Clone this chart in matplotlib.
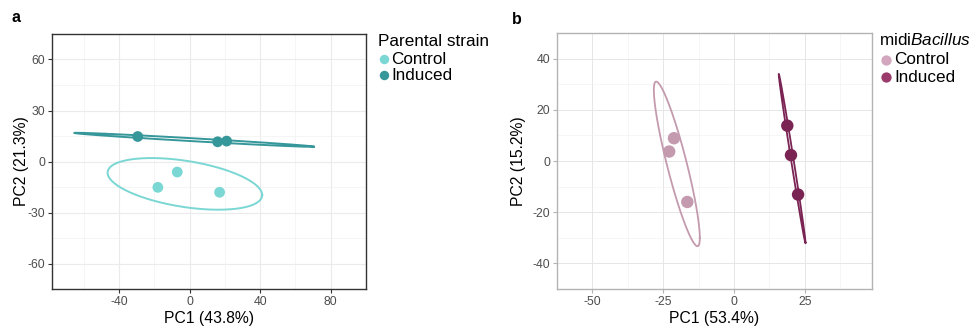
import numpy as np
import matplotlib
matplotlib.use("Agg")
import matplotlib.pyplot as plt
from matplotlib.lines import Line2D

plt.rcParams['font.family'] = ['Liberation Sans', 'DejaVu Sans']
plt.rcParams['axes.unicode_minus'] = False
plt.rcParams['mathtext.fontset'] = 'custom'
plt.rcParams['mathtext.rm'] = 'Liberation Sans'
plt.rcParams['mathtext.it'] = 'Liberation Sans:italic'

# ---------------- data ----------------
groups = ["Control", "Induced"]

a_control_pc1 = [-7.0, -18.0, 17.0]
a_control_pc2 = [-6.2, -15.2, -18.1]
a_induced_pc1 = [-29.4, 15.9, 21.0]
a_induced_pc2 = [14.7, 11.6, 12.0]

b_control_pc1 = [-21.2, -22.9, -16.5]
b_control_pc2 = [8.9, 3.7, -16.0]
b_induced_pc1 = [18.8, 20.1, 22.6]
b_induced_pc2 = [13.8, 2.3, -13.1]

a_xticks = [-40, 0, 40, 80]
a_yticks = [-60, -30, 0, 30, 60]
b_xticks = [-50, -25, 0, 25]
b_yticks = [-40, -20, 0, 20, 40]

a_colors = {"Control": "#7ad7d3", "Induced": "#36979b"}
b_colors = {"Control": "#c49aaf", "Induced": "#7a2454"}
b_legend_colors = {"Control": "#d2a7be", "Induced": "#9b3b6c"}

ellipse_level = 0.818

W, H = 973, 328


def ellipse_pts(x, y, level, seg=200):
    X = np.column_stack([x, y]).astype(float)
    n = len(X)
    loc = X.mean(axis=0)
    w = np.ones(n)
    nu, p = 5, 2
    for _ in range(25):
        w0 = w
        Xc = X - loc
        cov = (Xc * w[:, None]).T @ Xc / w.sum()
        Q = np.einsum('ij,jk,ik->i', Xc, np.linalg.inv(cov), Xc)
        w = (nu + p) / (nu + Q)
        loc = (w[:, None] * X).sum(axis=0) / w.sum()
        if np.all(np.abs(w - w0) < 0.01):
            break
    Xc = X - loc
    cov = (Xc * w[:, None]).T @ Xc / n
    fq = level / (1 - level)  # qf(level, 2, 2)
    r = np.sqrt(2 * fq)
    L = np.linalg.cholesky(cov).T
    ang = np.linspace(0, 2 * np.pi, seg + 1)
    circ = np.column_stack([np.cos(ang), np.sin(ang)])
    e = loc + r * circ @ L
    return e[:, 0], e[:, 1]


fig = plt.figure(figsize=(9.73, 3.28), dpi=100)

A_BOX = (52, 366, 34, 289)
B_BOX = (557, 872, 33, 289)
axA = fig.add_axes([A_BOX[0] / W, 1 - A_BOX[3] / H, (A_BOX[1] - A_BOX[0]) / W, (A_BOX[3] - A_BOX[2]) / H])
axB = fig.add_axes([B_BOX[0] / W, 1 - B_BOX[3] / H, (B_BOX[1] - B_BOX[0]) / W, (B_BOX[3] - B_BOX[2]) / H])


def style(ax, border, grid_major, grid_minor, tickc, xt, yt, xlim, ylim, gmw, gminw):
    ax.set_xlim(*xlim)
    ax.set_ylim(*ylim)
    ax.set_xticks(xt)
    ax.set_yticks(yt)
    ax.set_xticklabels([str(v) for v in xt])
    ax.set_yticklabels([str(v) for v in yt])
    xm = [(xt[i] + xt[i + 1]) / 2 for i in range(len(xt) - 1)]
    dx = xt[1] - xt[0]
    xm = [xt[0] - dx / 2] + xm + [xt[-1] + dx / 2]
    ym = [(yt[i] + yt[i + 1]) / 2 for i in range(len(yt) - 1)]
    dy = yt[1] - yt[0]
    ym = [yt[0] - dy / 2] + ym + [yt[-1] + dy / 2]
    ax.set_xticks(xm, minor=True)
    ax.set_yticks(ym, minor=True)
    ax.tick_params(which='minor', length=0)
    ax.tick_params(which='major', length=3, width=0.8, color=tickc, labelcolor='#4d4d4d',
                   labelsize=8.8, pad=2)
    ax.grid(which='major', color=grid_major, lw=gmw, zorder=0)
    ax.grid(which='minor', color=grid_minor, lw=gminw, zorder=0)
    ax.set_axisbelow(True)
    for s in ax.spines.values():
        s.set_color(border)
        s.set_linewidth(1.0)


style(axA, '#333333', '#ebebeb', '#f2f2f2', '#333333', a_xticks, a_yticks,
      (-78, 84), (-71, 60), 0.8, 0.5)
style(axB, '#b3b3b3', '#e6e6e6', '#f0f0f0', '#b3b3b3', b_xticks, b_yticks,
      (-51.4, 48.7), (-40.2, 41.0), 0.7, 0.4)

# panel a
for g, xs, ys in [("Control", a_control_pc1, a_control_pc2), ("Induced", a_induced_pc1, a_induced_pc2)]:
    ex, ey = ellipse_pts(xs, ys, ellipse_level)
    axA.plot(ex, ey, color=a_colors[g], lw=1.4, zorder=2)
    axA.scatter(xs, ys, s=60, color=a_colors[g], edgecolors='none', zorder=3)

# panel b
for g, xs, ys in [("Control", b_control_pc1, b_control_pc2), ("Induced", b_induced_pc1, b_induced_pc2)]:
    ex, ey = ellipse_pts(xs, ys, ellipse_level)
    axB.plot(ex, ey, color=b_colors[g], lw=1.3, zorder=2)
    axB.scatter(xs, ys, s=80, color=b_colors[g], edgecolors='none', zorder=3)

for ax, box, xl, yl, ylx in [(axA, A_BOX, "PC1 (43.8%)", "PC2 (21.3%)", 22),
                             (axB, B_BOX, "PC1 (53.4%)", "PC2 (15.2%)", 519)]:
    ax.set_xlabel(xl, fontsize=11.3, va='center')
    ax.set_ylabel(yl, fontsize=11.3, va='center')
    w_ax = box[1] - box[0]
    h_ax = box[3] - box[2]
    ax.xaxis.set_label_coords(0.5, (box[3] - 319) / h_ax)
    ax.yaxis.set_label_coords((ylx - box[0]) / w_ax, 0.5)

fig.text(12 / W, 1 - 18 / H, "a", fontsize=11.5, fontweight='bold', va='center', ha='left')
fig.text(512 / W, 1 - 20 / H, "b", fontsize=11.5, fontweight='bold', va='center', ha='left')


# legends drawn in figure pixel positions
def legend(title, colors, x_title, y_base, x_mark, ys_mark, x_lab, msize):
    fig.text(x_title / W, 1 - y_base / H, title, fontsize=12.3, ha='left', va='baseline')
    for g, ym in zip(groups, ys_mark):
        fig.add_artist(Line2D([x_mark / W], [1 - ym / H], ls='none', marker='o',
                              markersize=msize, markerfacecolor=colors[g],
                              markeredgecolor='none', transform=fig.transFigure))
        fig.text(x_lab / W, 1 - ym / H, g, fontsize=12.3, ha='left', va='center')


legend("Parental strain", a_colors, 378, 46, 384, [59, 75], 391, 6.8)
legend("midi$\\mathit{Bacillus}$", b_legend_colors, 879, 45, 886, [60, 77], 894, 7.4)

fig.savefig("out.png", dpi=100)
